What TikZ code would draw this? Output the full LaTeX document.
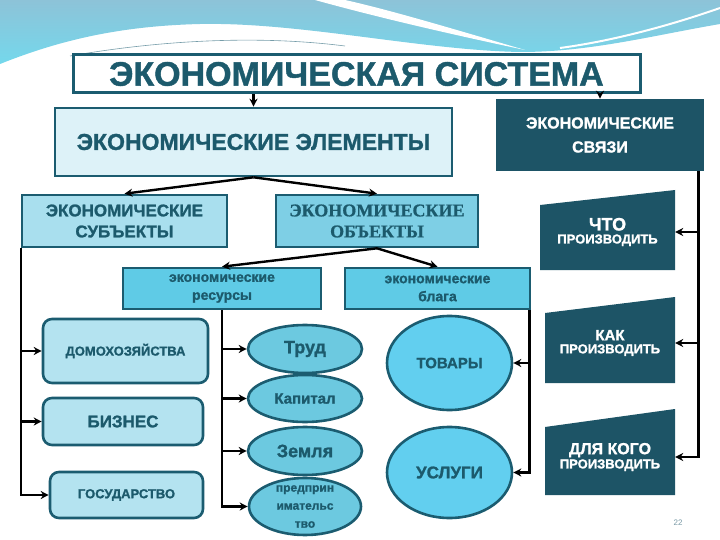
\documentclass[tikz,border=0pt]{standalone}
\usepackage{fontspec}
\setmainfont{Liberation Sans}[BoldFeatures={FakeBold=1.2}]
\newfontfamily\serifFont{Liberation Serif}[BoldFeatures={FakeBold=0.8}]
\usetikzlibrary{shapes.geometric, arrows.meta}

\begin{document}
\begin{tikzpicture}[x=1pt, y=-1pt,
    arrowLine/.style={-{Stealth[length=8pt, width=8pt]}, line width=2.4pt, black},
    baseBox/.style={draw=borderColour, line width=2.6pt, text=textColour, align=center, inner sep=2pt},
    roundBox/.style={baseBox, rounded corners=9pt, fill=roundFill},
    oval/.style={baseBox, ellipse, inner sep=0pt},
    linkText/.style={text=white, align=center, inner sep=0pt}]
    % Define colours
    \definecolor{borderColour}{HTML}{1B5C70}
    \definecolor{textColour}{HTML}{1C5A6C}
    \definecolor{linkFill}{HTML}{1D5466}
    \definecolor{elemFill}{HTML}{DDF2F8}
    \definecolor{subjFill}{HTML}{A9DFEE}
    \definecolor{objFill}{HTML}{7ECFE5}
    \definecolor{groupFill}{HTML}{5FCBE6}
    \definecolor{roundFill}{HTML}{B4E3F0}
    \definecolor{factorFill}{HTML}{6CC9E0}
    \definecolor{goodsFill}{HTML}{62CFEF}
    \definecolor{topBlue}{HTML}{8DC3D8}
    \definecolor{waveCyan}{HTML}{74D8EC}
    \definecolor{pageColour}{HTML}{7A9AA6}

    \useasboundingbox (0,0) rectangle (720,540);

    % Draw the wave at the top
    \shade[top color=topBlue, bottom color=waveCyan]
        (0,0) -- (720,0) -- (720,24) .. controls (650,36) and (590,52) .. (520,52)
        .. controls (420,50) and (300,22) .. (200,24)
        .. controls (120,26) and (60,40) .. (0,64) -- cycle;
    \fill[white] (315,0) .. controls (380,18) and (450,34) .. (525,50)
        .. controls (450,28) and (390,10) .. (345,0) -- cycle;
    \draw[white, line width=2pt] (560,48) .. controls (620,40) and (680,22) .. (720,8);
    \draw[borderColour!60, line width=0.6pt] (70,56) .. controls (150,42) and (250,34) .. (345,46);

    % Draw the upper levels
    \node[baseBox, fill=white, line width=3pt, minimum width=567, minimum height=38,
        font=\fontsize{34}{36}\bfseries] (system) at (356.5,74) {ЭКОНОМИЧЕСКАЯ СИСТЕМА};
    \node[baseBox, fill=elemFill, minimum width=397, minimum height=68,
        font=\fontsize{23}{26}\bfseries] (elements) at (253.5,142) {ЭКОНОМИЧЕСКИЕ ЭЛЕМЕНТЫ};
    \node[baseBox, draw=linkFill, fill=linkFill, text=white, minimum width=206, minimum height=70,
        font=\fontsize{16}{24}\bfseries] (links) at (600,135) {ЭКОНОМИЧЕСКИЕ\\СВЯЗИ};

    \node[baseBox, fill=subjFill, minimum width=205, minimum height=52,
        font=\fontsize{17}{21}\bfseries] (subjects) at (124.5,221) {ЭКОНОМИЧЕСКИЕ\\СУБЪЕКТЫ};
    \node[baseBox, fill=objFill, minimum width=202, minimum height=52,
        font=\fontsize{18}{21}\serifFont\bfseries] (objects) at (377,221) {ЭКОНОМИЧЕСКИЕ\\ОБЪЕКТЫ};

    \node[baseBox, fill=groupFill, minimum width=198, minimum height=41,
        font=\fontsize{14}{18}\bfseries] (resources) at (222,288.5) {экономические\\ресурсы};
    \node[baseBox, fill=groupFill, minimum width=185, minimum height=41,
        font=\fontsize{14}{18}\bfseries] (benefits) at (437.5,288.5) {экономические\\блага};

    % Draw the subjects
    \node[roundBox, minimum width=165, minimum height=64, font=\fontsize{13}{15}\bfseries]
        (households) at (125.5,351) {ДОМОХОЗЯЙСТВА};
    \node[roundBox, minimum width=160, minimum height=47, font=\fontsize{17}{19}\bfseries]
        (business) at (123,421.5) {БИЗНЕС};
    \node[roundBox, minimum width=153, minimum height=46, font=\fontsize{13}{15}\bfseries]
        (state) at (126.5,495) {ГОСУДАРСТВО};

    % Draw the factors of production
    \node[oval, fill=factorFill, minimum width=114, minimum height=48, font=\fontsize{18}{20}\bfseries]
        (labour) at (305,349) {Труд};
    \node[oval, fill=factorFill, minimum width=114, minimum height=47, font=\fontsize{15}{17}\bfseries]
        (capital) at (305,398.5) {Капитал};
    \node[oval, fill=factorFill, minimum width=114, minimum height=48, font=\fontsize{18}{20}\bfseries]
        (land) at (305,451) {Земля};
    \node[oval, fill=factorFill, minimum width=112, minimum height=57, inner ysep=-5pt,
        font=\fontsize{12}{18}\bfseries] (enterprise) at (305,506.5) {предприн\\имательс\\тво};

    % Draw the goods
    \node[oval, fill=goodsFill, minimum width=125, minimum height=94, font=\fontsize{15}{17}\bfseries]
        (products) at (449.5,363) {ТОВАРЫ};
    \node[oval, fill=goodsFill, minimum width=125, minimum height=91, font=\fontsize{17}{19}\bfseries]
        (services) at (449.5,472.5) {УСЛУГИ};

    % Draw the three questions
    \fill[linkFill] (540,205) -- (675,190) -- (675,270) -- (540,270) -- cycle;
    \fill[linkFill] (545,313) -- (675,297) -- (675,383) -- (545,383) -- cycle;
    \fill[linkFill] (545,427) -- (675,409) -- (675,495) -- (545,495) -- cycle;
    \node[linkText, minimum width=135] (what) at (607.5,232)
        {\fontsize{18}{20}\bfseries ЧТО\\[1pt]\fontsize{13}{15}\bfseries ПРОИЗВОДИТЬ};
    \node[linkText, minimum width=130] (how) at (610,343)
        {\fontsize{15}{17}\bfseries КАК\\[1pt]\fontsize{13}{15}\bfseries ПРОИЗВОДИТЬ};
    \node[linkText, minimum width=130] (whom) at (610,457)
        {\fontsize{16}{18}\bfseries ДЛЯ КОГО\\[1pt]\fontsize{13}{15}\bfseries ПРОИЗВОДИТЬ};

    \node[font=\fontsize{8}{9}\selectfont, text=pageColour] (pageNum) at (678,523) {22};

    % Draw the connectors
    \draw[arrowLine] (elements.north |- system.south) -- (elements.north);
    \draw[arrowLine] (links.north |- system.south) -- (links.north);
    \draw[arrowLine] (elements.south) -- (subjects.north);
    \draw[arrowLine] (elements.south) -- (objects.north);
    \draw[arrowLine] (objects.south) -- (resources.north);
    \draw[arrowLine] (objects.south) -- (benefits.north);

    \foreach \target in {households, business, state}
        \draw[arrowLine] (subjects.south west) |- (\target.west);
    \foreach \target in {labour, capital, land, enterprise}
        \draw[arrowLine] (resources.south) |- (\target.west);
    \coordinate (benefitsTrunk) at ([xshift=-2pt]benefits.south east);
    \foreach \target in {products, services}
        \draw[arrowLine] (benefitsTrunk) |- (\target.east);
    \coordinate (linksTrunk) at ([xshift=-6pt]links.south east);
    \foreach \target in {what, how, whom}
        \draw[arrowLine] (linksTrunk) |- (\target.east);

\end{tikzpicture}
\end{document}
